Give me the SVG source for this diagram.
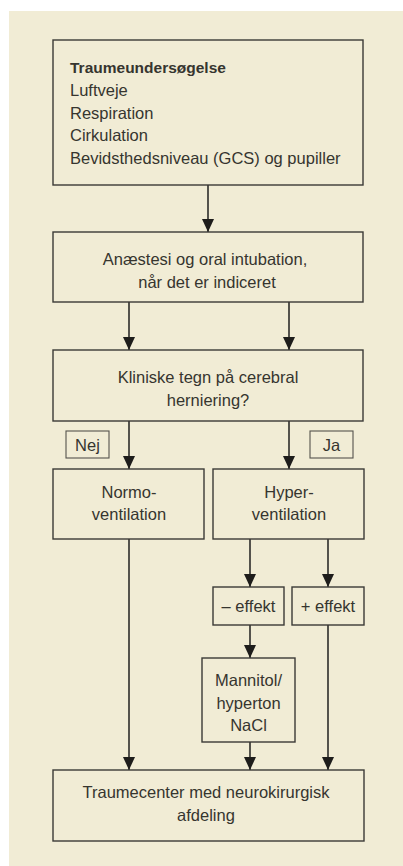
<svg xmlns="http://www.w3.org/2000/svg" width="403" height="866" viewBox="0 0 403 866">
<style>
.box{fill:#F1ECD5;stroke:#3b3a36;stroke-width:1.4}
.lbl{fill:#F1ECD5;stroke:#55534d;stroke-width:1.1}
.t{font-family:"Liberation Sans",Arial,sans-serif;font-size:16.5px;fill:#36352f}
.c{text-anchor:middle}
.b{font-weight:bold;font-size:15.5px}
.ln{stroke:#2e2d2a;stroke-width:1.6;fill:none}
</style>
<defs>
<marker id="ah" markerWidth="13" markerHeight="12" refX="13" refY="6" orient="auto" markerUnits="userSpaceOnUse">
<path d="M0,0 L13,6 L0,12 Z" fill="#1e1d1b"/>
</marker>
</defs>
<rect x="9" y="11" width="394" height="855" fill="#F1ECD5"/>
<g id="connectors">
<line class="ln" x1="208" y1="185" x2="208" y2="232" marker-end="url(#ah)"/>
<line class="ln" x1="129" y1="302" x2="129" y2="350" marker-end="url(#ah)"/>
<line class="ln" x1="289" y1="302" x2="289" y2="350" marker-end="url(#ah)"/>
<line class="ln" x1="129" y1="421" x2="129" y2="469" marker-end="url(#ah)"/>
<line class="ln" x1="289" y1="421" x2="289" y2="469" marker-end="url(#ah)"/>
<line class="ln" x1="250" y1="539" x2="250" y2="587" marker-end="url(#ah)"/>
<line class="ln" x1="328" y1="539" x2="328" y2="587" marker-end="url(#ah)"/>
<line class="ln" x1="250" y1="625" x2="250" y2="658" marker-end="url(#ah)"/>
<line class="ln" x1="129" y1="539" x2="129" y2="770" marker-end="url(#ah)"/>
<line class="ln" x1="250" y1="742" x2="250" y2="770" marker-end="url(#ah)"/>
<line class="ln" x1="328" y1="625" x2="328" y2="770" marker-end="url(#ah)"/>
</g>
<g id="n1">
<rect class="box" x="53" y="40" width="310" height="145"/>
<text class="t b" x="70" y="73">Traumeundersøgelse</text>
<text class="t" x="70" y="96">Luftveje</text>
<text class="t" x="70" y="119">Respiration</text>
<text class="t" x="70" y="141">Cirkulation</text>
<text class="t" x="70" y="164">Bevidsthedsniveau (GCS) og pupiller</text>
</g>
<g id="n2">
<rect class="box" x="53" y="232" width="310" height="70"/>
<text class="t c" x="205" y="265">Anæstesi og oral intubation,</text>
<text class="t c" x="207" y="288">når det er indiceret</text>
</g>
<g id="n3">
<rect class="box" x="53" y="350" width="310" height="71"/>
<text class="t c" x="208" y="383">Kliniske tegn på cerebral</text>
<text class="t c" x="208" y="406">herniering?</text>
</g>
<g id="nej">
<rect class="lbl" x="66" y="431" width="43" height="27"/>
<text class="t c" x="87.5" y="451">Nej</text>
</g>
<g id="ja">
<rect class="lbl" x="310" y="431" width="43" height="27"/>
<text class="t c" x="331.5" y="451">Ja</text>
</g>
<g id="normo">
<rect class="box" x="53" y="469" width="151" height="70"/>
<text class="t c" x="129" y="498">Normo-</text>
<text class="t c" x="129" y="520">ventilation</text>
</g>
<g id="hyper">
<rect class="box" x="213" y="469" width="151" height="70"/>
<text class="t c" x="289" y="498">Hyper-</text>
<text class="t c" x="289" y="520">ventilation</text>
</g>
<g id="neg">
<rect class="box" x="213" y="587" width="71" height="38"/>
<text class="t c" x="248.5" y="612">– effekt</text>
</g>
<g id="pos">
<rect class="box" x="292" y="587" width="72" height="38"/>
<text class="t c" x="328" y="612">+ effekt</text>
</g>
<g id="mannitol">
<rect class="box" x="202" y="658" width="93" height="84"/>
<text class="t c" x="248.5" y="686">Mannitol/</text>
<text class="t c" x="248.5" y="709">hyperton</text>
<text class="t c" x="248.5" y="731">NaCl</text>
</g>
<g id="final">
<rect class="box" x="53" y="770" width="311" height="71"/>
<text class="t c" x="206" y="798">Traumecenter med neurokirurgisk</text>
<text class="t c" x="206" y="821">afdeling</text>
</g>
</svg>
